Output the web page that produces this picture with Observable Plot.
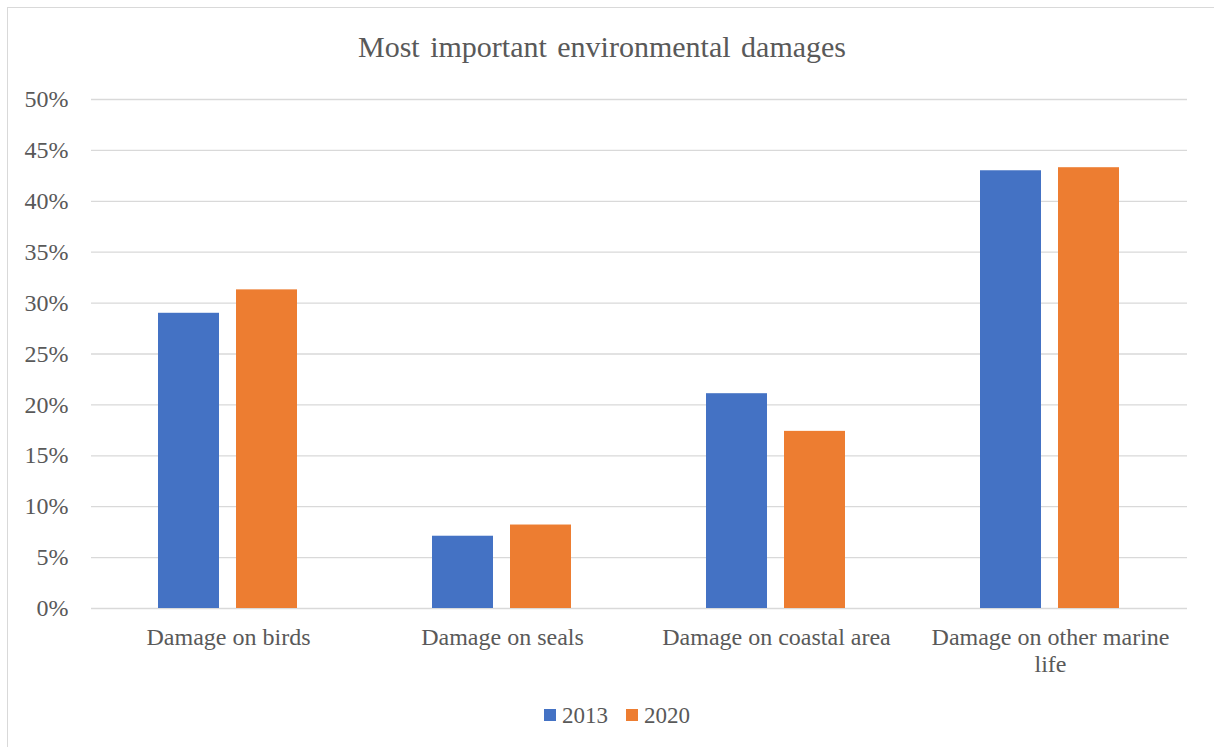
<!DOCTYPE html>
<html><head><meta charset="utf-8">
<script src="https://cdn.jsdelivr.net/npm/d3@7"></script>
<script src="https://cdn.jsdelivr.net/npm/@observablehq/plot@0.6"></script>
<style>
body{margin:0;width:1214px;height:747px;overflow:hidden;background:#fff;font-family:"Liberation Serif","Times New Roman",serif;color:#595959;position:relative}
#frame{position:absolute;left:7px;top:7px;width:1300px;height:800px;border:1.5px solid #d9d9d9;box-sizing:border-box}
#title{position:absolute;left:0;top:32px;width:1204px;text-align:center;font-size:30px;line-height:30px;word-spacing:3px;white-space:nowrap}
#chart{position:absolute;left:0;top:0}
#chart svg, #chart svg text{font-family:"Liberation Serif","Times New Roman",serif !important}
#legend{position:absolute;left:544px;top:704px;display:flex;font-size:23px;line-height:23px}
.item{display:flex;align-items:flex-start;margin-right:18px}
.sw{width:12px;height:12px;margin-top:5px;margin-right:6px}
</style></head><body>
<div id="frame"></div>
<div id="chart"></div>
<div id="title">Most important environmental damages</div>
<div id="legend"></div>
<script>
const categories = ["Damage on birds", "Damage on seals", "Damage on coastal area", "Damage on other marine life"];
const categoryLabels = ["Damage on birds", "Damage on seals", "Damage on coastal area", "Damage on other marine\nlife"];
const series = ["2013", "2020"];
const values2013 = [0.290, 0.071, 0.211, 0.430];
const values2020 = [0.313, 0.082, 0.174, 0.433];
const colors = ["#4472C4", "#ED7D31"];
const yTicks = [0, 0.05, 0.10, 0.15, 0.20, 0.25, 0.30, 0.35, 0.40, 0.45, 0.50];

const data = categories.flatMap((c, i) => [
  {category: c, year: series[0], value: values2013[i]},
  {category: c, year: series[1], value: values2020[i]}
]);

const serif = "'Liberation Serif', 'Times New Roman', serif";
const chart = Plot.plot({
  width: 1214, height: 690,
  marginTop: 99, marginBottom: 82, marginLeft: 90, marginRight: 26,
  style: {fontFamily: serif, fontSize: "24px", color: "#595959", background: "transparent", overflow: "visible"},
  fx: {domain: categories, padding: 0, label: null, axis: null},
  x: {domain: series, paddingInner: 0.213, paddingOuter: 0.86, axis: null},
  y: {domain: [0, 0.5], axis: null},
  color: {domain: series, range: colors},
  marks: [
    Plot.gridY(yTicks, {stroke: "#d9d9d9", strokeOpacity: 1, strokeWidth: 1.3}),
    Plot.axisY(yTicks, {tickSize: 0, tickPadding: 23, tickFormat: d3.format(".0%"), fontSize: 24, fontFamily: serif, fill: "#595959", label: null}),
    Plot.axisFx({anchor: "bottom", tickSize: 0, tickPadding: 17, tickFormat: d => categoryLabels[categories.indexOf(d)], lineHeight: 1.125, fontSize: 24, fontFamily: serif, fill: "#595959", label: null}),
    Plot.barY(data, {fx: "category", x: "year", y: "value", fill: "year"})
  ]
});
document.getElementById("chart").appendChild(chart);

const legend = document.getElementById("legend");
series.forEach((s, i) => {
  const item = document.createElement("div");
  item.className = "item";
  const sw = document.createElement("div");
  sw.className = "sw";
  sw.style.background = colors[i];
  const t = document.createElement("span");
  t.textContent = s;
  item.appendChild(sw);
  item.appendChild(t);
  legend.appendChild(item);
});
</script>
</body></html>
